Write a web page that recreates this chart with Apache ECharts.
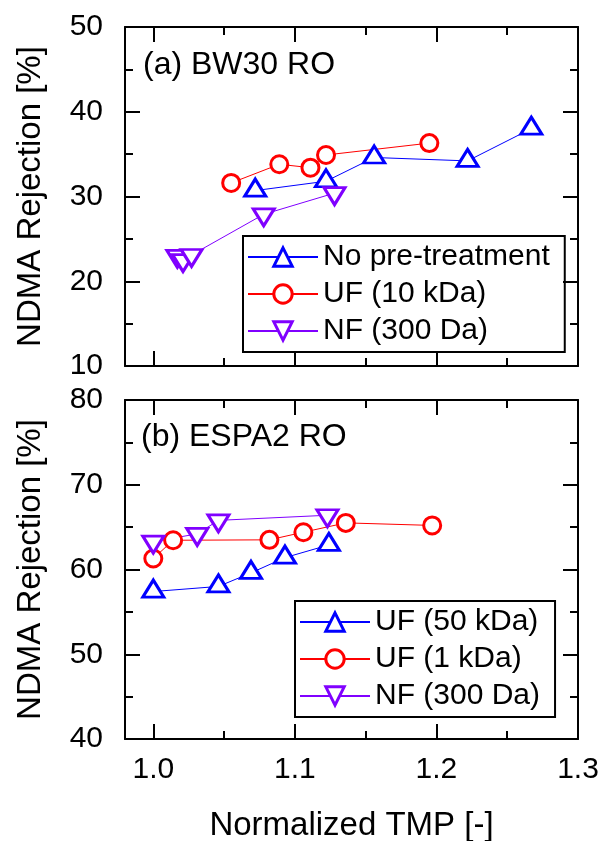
<!DOCTYPE html>
<html>
<head>
<meta charset="utf-8">
<script src="https://cdn.jsdelivr.net/npm/echarts@6/dist/echarts.min.js"></script>
<style>
  html, body { margin: 0; padding: 0; background: #fff; }
  #main { width: 603px; height: 841px; }
</style>
</head>
<body>
<div id="main"></div>
<script>
// (a) BW30 RO
const noPreX = [1.072, 1.122, 1.156, 1.222, 1.267];
const noPreY = [30.7, 31.8, 34.6, 34.2, 38.0];
const uf10X = [1.055, 1.089, 1.111, 1.122, 1.195];
const uf10Y = [31.6, 33.8, 33.4, 34.9, 36.3];
const nfTopX = [1.017, 1.021, 1.027, 1.078, 1.128];
const nfTopY = [23.0, 22.5, 23.1, 27.9, 30.4];

// (b) ESPA2 RO
const uf50X = [1.0, 1.046, 1.069, 1.093, 1.124];
const uf50Y = [57.4, 58.0, 59.6, 61.4, 62.9];
const uf1X = [1.0, 1.014, 1.082, 1.106, 1.136, 1.197];
const uf1Y = [61.3, 63.45, 63.5, 64.4, 65.5, 65.2];
const nfBotX = [1.0, 1.031, 1.046, 1.123];
const nfBotY = [63.3, 64.2, 65.8, 66.4];

// axes
const xMajor = [1.0, 1.1, 1.2, 1.3];
const xMinor = [1.05, 1.15, 1.25];
const yTopTicks = [10, 20, 30, 40, 50];
const yBotTicks = [40, 50, 60, 70, 80];

const FONT = "'Liberation Sans', Arial, sans-serif";
const BLUE = '#0000ff', RED = '#ff0000', PURPLE = '#8000ff';
const tickLine = { color: '#000', width: 2 };

function frameAxis(extra) {
  return Object.assign({
    type: 'value',
    axisLine: { show: true, onZero: false, lineStyle: { color: '#000', width: 2 } },
    axisTick: { show: true, inside: true, length: 15, lineStyle: tickLine },
    minorTick: { show: true, splitNumber: 2, length: 8, lineStyle: tickLine },
    splitLine: { show: false },
    axisLabel: { show: false }
  }, extra);
}

// x axes: ticks placed with customValues (range starts at 0.98)
function xAxisPair(grid, pos, labelled) {
  const major = frameAxis({
    gridIndex: grid, position: pos, min: 0.98, max: 1.3,
    minorTick: { show: false },
    axisTick: { show: true, inside: true, length: 15, lineStyle: tickLine, customValues: xMajor }
  });
  if (labelled) {
    major.axisLabel = { show: true, customValues: xMajor, fontSize: 30, color: '#000', margin: 16,
      fontFamily: FONT, formatter: v => v.toFixed(1) };
    major.name = 'Normalized TMP [-]';
    major.nameLocation = 'middle';
    major.nameGap = 70;
    major.nameMoveOverlap = false;
    major.nameTextStyle = { fontSize: 33, color: '#000', fontFamily: FONT };
  }
  const minor = frameAxis({
    gridIndex: grid, position: pos, min: 0.98, max: 1.3,
    axisLine: { show: false, onZero: false },
    minorTick: { show: false },
    axisTick: { show: true, inside: true, length: 8, lineStyle: tickLine, customValues: xMinor }
  });
  return [major, minor];
}

function yAxis(grid, pos, ticks, labelled) {
  const a = frameAxis({
    gridIndex: grid, position: pos,
    min: ticks[0], max: ticks[ticks.length - 1], interval: ticks[1] - ticks[0]
  });
  if (labelled) {
    a.name = 'NDMA Rejection [%]';
    a.nameLocation = 'middle';
    a.nameGap = 78;
    a.nameMoveOverlap = false;
    a.nameTextStyle = { fontSize: 33, color: '#000', fontFamily: FONT };
    a.axisLabel = { show: true, fontSize: 30, color: '#000', margin: 22, fontFamily: FONT };
  }
  return a;
}

function mkSeries(name, xs, ys, color, shape, xi, yi) {
  const s = {
    name: name,
    type: 'line',
    xAxisIndex: xi, yAxisIndex: yi,
    data: xs.map((x, i) => [x, ys[i]]),
    lineStyle: { color: color, width: 1 },
    itemStyle: { color: '#fff', borderColor: color, borderWidth: 3 },
    emphasis: { disabled: true },
    z: 3
  };
  if (shape === 'circle') {
    s.symbol = 'circle';
    s.symbolSize = 17;
  } else {
    s.symbol = 'triangle';
    s.symbolSize = [21, 17];
    if (shape === 'down') {
      s.symbolRotate = 180;
      s.symbolOffset = [0, 3];
    } else {
      s.symbolOffset = [0, -3];
    }
  }
  return s;
}

const legendCommon = {
  orient: 'vertical',
  itemWidth: 70,
  itemHeight: 23,
  itemGap: 7,
  padding: [6, 15, 6, 4],
  borderColor: '#000',
  borderWidth: 2,
  selectedMode: false,
  itemStyle: { borderWidth: 3 },
  textStyle: { fontSize: 30, color: '#000', fontFamily: FONT }
};

const chart = echarts.init(document.getElementById('main'));
chart.setOption({
  animation: false,
  backgroundColor: '#fff',
  textStyle: { fontFamily: FONT },
  title: [
    { text: '(a) BW30 RO', left: 143, top: 49, padding: 0,
      textStyle: { fontSize: 32, fontWeight: 'normal', color: '#000', fontFamily: FONT } },
    { text: '(b) ESPA2 RO', left: 141, top: 421, padding: 0,
      textStyle: { fontSize: 32, fontWeight: 'normal', color: '#000', fontFamily: FONT } }
  ],
  grid: [
    { left: 125, top: 27, width: 453, height: 339, outerBoundsMode: 'none', containLabel: false },
    { left: 125, top: 400, width: 453, height: 339, outerBoundsMode: 'none', containLabel: false }
  ],
  xAxis: [].concat(
    xAxisPair(0, 'bottom', false),   // 0,1
    xAxisPair(0, 'top', false),      // 2,3
    xAxisPair(1, 'bottom', true),    // 4,5
    xAxisPair(1, 'top', false)       // 6,7
  ),
  yAxis: [
    yAxis(0, 'left', yTopTicks, true),
    yAxis(0, 'right', yTopTicks, false),
    yAxis(1, 'left', yBotTicks, true),
    yAxis(1, 'right', yBotTicks, false)
  ],
  legend: [
    Object.assign({ left: 243, top: 236,
      data: ['No pre-treatment', 'UF (10 kDa)', 'NF (300 Da)'] }, legendCommon),
    Object.assign({ left: 295, top: 601,
      data: ['UF (50 kDa)', 'UF (1 kDa)', 'NF (300 Da)'] }, legendCommon)
  ],
  series: [
    mkSeries('No pre-treatment', noPreX, noPreY, BLUE, 'up', 0, 0),
    mkSeries('UF (10 kDa)', uf10X, uf10Y, RED, 'circle', 0, 0),
    mkSeries('NF (300 Da)', nfTopX, nfTopY, PURPLE, 'down', 0, 0),
    mkSeries('UF (50 kDa)', uf50X, uf50Y, BLUE, 'up', 4, 2),
    mkSeries('UF (1 kDa)', uf1X, uf1Y, RED, 'circle', 4, 2),
    mkSeries('NF (300 Da)', nfBotX, nfBotY, PURPLE, 'down', 4, 2)
  ]
});
</script>
</body>
</html>
